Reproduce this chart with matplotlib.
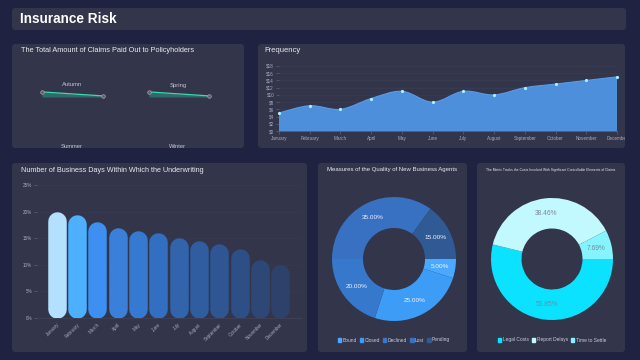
import numpy as np
import matplotlib.pyplot as plt
from matplotlib.patches import FancyBboxPatch, PathPatch, Patch, Rectangle
from matplotlib.path import Path

W, H = 640, 360
plt.rcParams['font.family'] = ['Liberation Sans', 'DejaVu Sans']

# ---- data ----
months = ["January", "February", "March", "April", "May", "June", "July",
          "August", "September", "October", "November", "December"]
freq_values = [5, 7, 6, 9, 11, 8, 11, 10, 12, 13, 14, 15]
freq_ticks = [0, 2, 4, 6, 8, 10, 12, 14, 16, 18]

days_pct = [20, 19.5, 18, 17, 16.4, 16, 15, 14.6, 14, 13, 11, 10]
days_ticks = [0, 5, 10, 15, 20, 25]
bar_colors = ["#b3e0ff", "#4cb0ff", "#3d8ff2", "#3a80da", "#3579d0", "#336fc0",
              "#3264ab", "#305ca0", "#2f5692", "#2e4f85", "#2d4777", "#2e416b"]

seasons_top = ["Autumn", "Spring"]
seasons_bottom = ["Summer", "Winter"]
claims_autumn = [40, 34.5]
claims_spring = [40, 34.5]

quality_labels = ["Bound", "Closed", "Declined", "Lost", "Pending"]
quality_values = [5, 25, 20, 35, 15]
quality_colors = ["#4aa8ff", "#3c9cf6", "#3578cc", "#3870c2", "#2f5a94"]

cost_labels = ["Legal Costs", "Report Delays", "Time to Settle"]
cost_values = [7, 5, 1]
cost_colors = ["#0ae2ff", "#c2f9ff", "#85f4ff"]

BG = "#1f2240"
PANEL = "#33354b"
TXT = "#e8eaf0"
TICK = "#a8acbc"

fig = plt.figure(figsize=(6.4, 3.6), dpi=100, facecolor=BG)


def box(x0, y0, x1, y1):
    return [x0 / W, 1 - y1 / H, (x1 - x0) / W, (y1 - y0) / H]


def panel(x0, y0, x1, y1):
    p = FancyBboxPatch((x0 / 100, (H - y1) / 100), (x1 - x0) / 100, (y1 - y0) / 100,
                       boxstyle="round,pad=0,rounding_size=0.03", fc=PANEL, ec="none",
                       transform=fig.dpi_scale_trans, zorder=-10)
    fig.patches.append(p)


# panels
panel(12, 8, 626, 30)
panel(12, 44, 244, 148)
panel(258, 44, 625, 148)
panel(12, 163, 307, 352)
panel(318, 163, 467, 352)
panel(477, 163, 625, 352)

fig.text(20 / W, 1 - 19 / H, "Insurance Risk", color="white", fontsize=9.8,
         fontweight="bold", va="center", ha="left")
fig.text(21 / W, 1 - 50 / H, "The Total Amount of Claims Paid Out to Policyholders",
         color=TXT, fontsize=5.3, va="center")
fig.text(264 / W, 1 - 50 / H, "Frequency", color=TXT, fontsize=5.5, va="center")
fig.text(21 / W, 1 - 170 / H, "Number of Business Days Within Which the Underwriting",
         color=TXT, fontsize=5.2, va="center")
fig.text(327 / W, 1 - 169.5 / H, "Measures of the Quality of New Business Agents",
         color=TXT, fontsize=4.3, va="center")
fig.text(486 / W, 1 - 169.5 / H,
         "The Metric Tracks the Costs Involved With Significant Controllable Elements of Claims",
         color=TXT, fontsize=2.4, va="center")

# ---- claims small multiples ----
ax_c = fig.add_axes(box(12, 44, 244, 148))
ax_c.set_xlim(12, 244)
ax_c.set_ylim(148, 44)
ax_c.axis("off")
for name, x in zip(seasons_top, [72, 178]):
    ax_c.text(x, 85, name, color="#c4c7d2", fontsize=4.2, ha="center", va="center", clip_on=True)
for name, x in zip(seasons_bottom, [72, 178]):
    ax_c.text(x, 147, name, color="#c4c7d2", fontsize=4.2, ha="center", va="center", clip_on=True)

for vals, (x0, x1) in zip([claims_autumn, claims_spring], [(42, 103), (149, 209)]):
    a = fig.add_axes(box(x0, 89, x1, 97))
    a.set_xlim(0, 1)
    a.set_ylim(33, 44)
    a.axis("off")
    a.fill_between([0, 1], vals, 33, color="#2f6b69", lw=0)
    a.plot([0, 1], vals, color="#3fd6ad", lw=0.9)
    a.plot([0, 1], vals, "o", ms=2.6, mfc="#5c6070", mec="#a0a4ae", mew=0.5, clip_on=False)

# ---- frequency area ----
ax_f = fig.add_axes(box(279, 66, 617, 131))
ax_f.set_facecolor("none")
xs = np.arange(len(freq_values))
ys = np.array(freq_values, dtype=float)
verts = [(0, 0), (xs[0], ys[0])]
codes = [Path.MOVETO, Path.LINETO]
n = len(xs)
for i in range(n - 1):
    p0 = (xs[max(i - 1, 0)], ys[max(i - 1, 0)])
    p1 = (xs[i], ys[i])
    p2 = (xs[i + 1], ys[i + 1])
    p3 = (xs[min(i + 2, n - 1)], ys[min(i + 2, n - 1)])
    c1 = (p1[0] + (p2[0] - p0[0]) / 6, p1[1] + (p2[1] - p0[1]) / 6)
    c2 = (p2[0] - (p3[0] - p1[0]) / 6, p2[1] - (p3[1] - p1[1]) / 6)
    verts += [c1, c2, p2]
    codes += [Path.CURVE4] * 3
line_path = Path(verts[1:], [Path.MOVETO] + codes[2:])
verts += [(xs[-1], 0), (0, 0)]
codes += [Path.LINETO, Path.CLOSEPOLY]
ax_f.add_patch(PathPatch(Path(verts, codes), fc="#4e8fdc", ec="none", zorder=2))
ax_f.add_patch(PathPatch(line_path, fc="none", ec="#5a9be6", lw=0.8, zorder=3))
ax_f.plot(xs, ys, "o", ms=2.3, mfc="#a6f2ff", mec="none", zorder=4, clip_on=False)
ax_f.set_xlim(0, 11)
ax_f.set_ylim(0, 18)
ax_f.set_xticks(xs)
ax_f.set_xticklabels(months)
ax_f.set_yticks(freq_ticks)
ax_f.set_yticklabels([f"${t}" for t in freq_ticks])
ax_f.tick_params(colors="#6a6e82", labelcolor=TICK, labelsize=3.3, length=2, width=0.4, pad=1.5)
ax_f.grid(axis="y", color="#3c3f56", lw=0.4)
ax_f.set_axisbelow(True)
for s in ["top", "right", "left"]:
    ax_f.spines[s].set_visible(False)
ax_f.spines["bottom"].set_color("#6a6e82")
ax_f.spines["bottom"].set_linewidth(0.5)
# the last month label is cut off at the panel edge in the original
fig.add_artist(Rectangle((625 / W, 0.5), (W - 625) / W, 0.2, transform=fig.transFigure,
                         fc=BG, ec="none", zorder=20))

# ---- business days bars ----
ax_b = fig.add_axes(box(37, 185, 302, 318))
ax_b.set_facecolor("none")
ax_b.set_xlim(-0.98, 12.08)
ax_b.set_ylim(0, 25)
bar_px = 18.5
r_data = (bar_px / 2) * 25 / 133
for i, (v, c) in enumerate(zip(days_pct, bar_colors)):
    ax_b.plot([i, i], [r_data, v - r_data], color=c, lw=bar_px * 0.72,
              solid_capstyle="round", zorder=3)
ax_b.set_xticks(range(len(months)))
ax_b.set_xticklabels(months, rotation=45, ha="right", rotation_mode="anchor")
ax_b.set_yticks(days_ticks)
ax_b.set_yticklabels([f"{t}%" for t in days_ticks])
ax_b.tick_params(colors="#6a6e82", labelcolor=TICK, labelsize=3.3, length=2, width=0.4, pad=1.5)
ax_b.tick_params(axis="x", length=0, pad=3)
ax_b.grid(axis="y", color="#393c53", lw=0.4)
ax_b.set_axisbelow(True)
for s in ["top", "right", "left"]:
    ax_b.spines[s].set_visible(False)
ax_b.spines["bottom"].set_color("#45485e")
ax_b.spines["bottom"].set_linewidth(0.4)

# ---- donuts ----
def donut(rect, values, colors, label_color, fs):
    a = fig.add_axes(rect)
    a.pie(values, colors=colors, startangle=0, counterclock=False,
          wedgeprops=dict(width=0.5, edgecolor="none"), autopct="%.2f%%",
          pctdistance=0.75, textprops=dict(color=label_color, fontsize=fs))
    a.set_xlim(-1, 1)
    a.set_ylim(-1, 1)
    return a


donut(box(332, 197, 456, 321), quality_values, quality_colors, "#f0f4ff", 4.6)
donut(box(491, 198, 613, 320), cost_values, cost_colors, "#7c8798", 4.8)

leg_kw = dict(loc="center", frameon=False, fontsize=3.5, handlelength=0.7, handleheight=0.7,
              handletextpad=0.3, columnspacing=0.6, labelcolor="#c8ccd8", borderpad=0)
fig.legend([Patch(color=c) for c in quality_colors], quality_labels, ncol=5,
           bbox_to_anchor=(394 / W, 1 - 340 / H), **leg_kw)
fig.legend([Patch(color=c) for c in cost_colors], cost_labels, ncol=3,
           bbox_to_anchor=(552 / W, 1 - 340 / H), **leg_kw)

fig.savefig("out.png", dpi=100, facecolor=BG)
